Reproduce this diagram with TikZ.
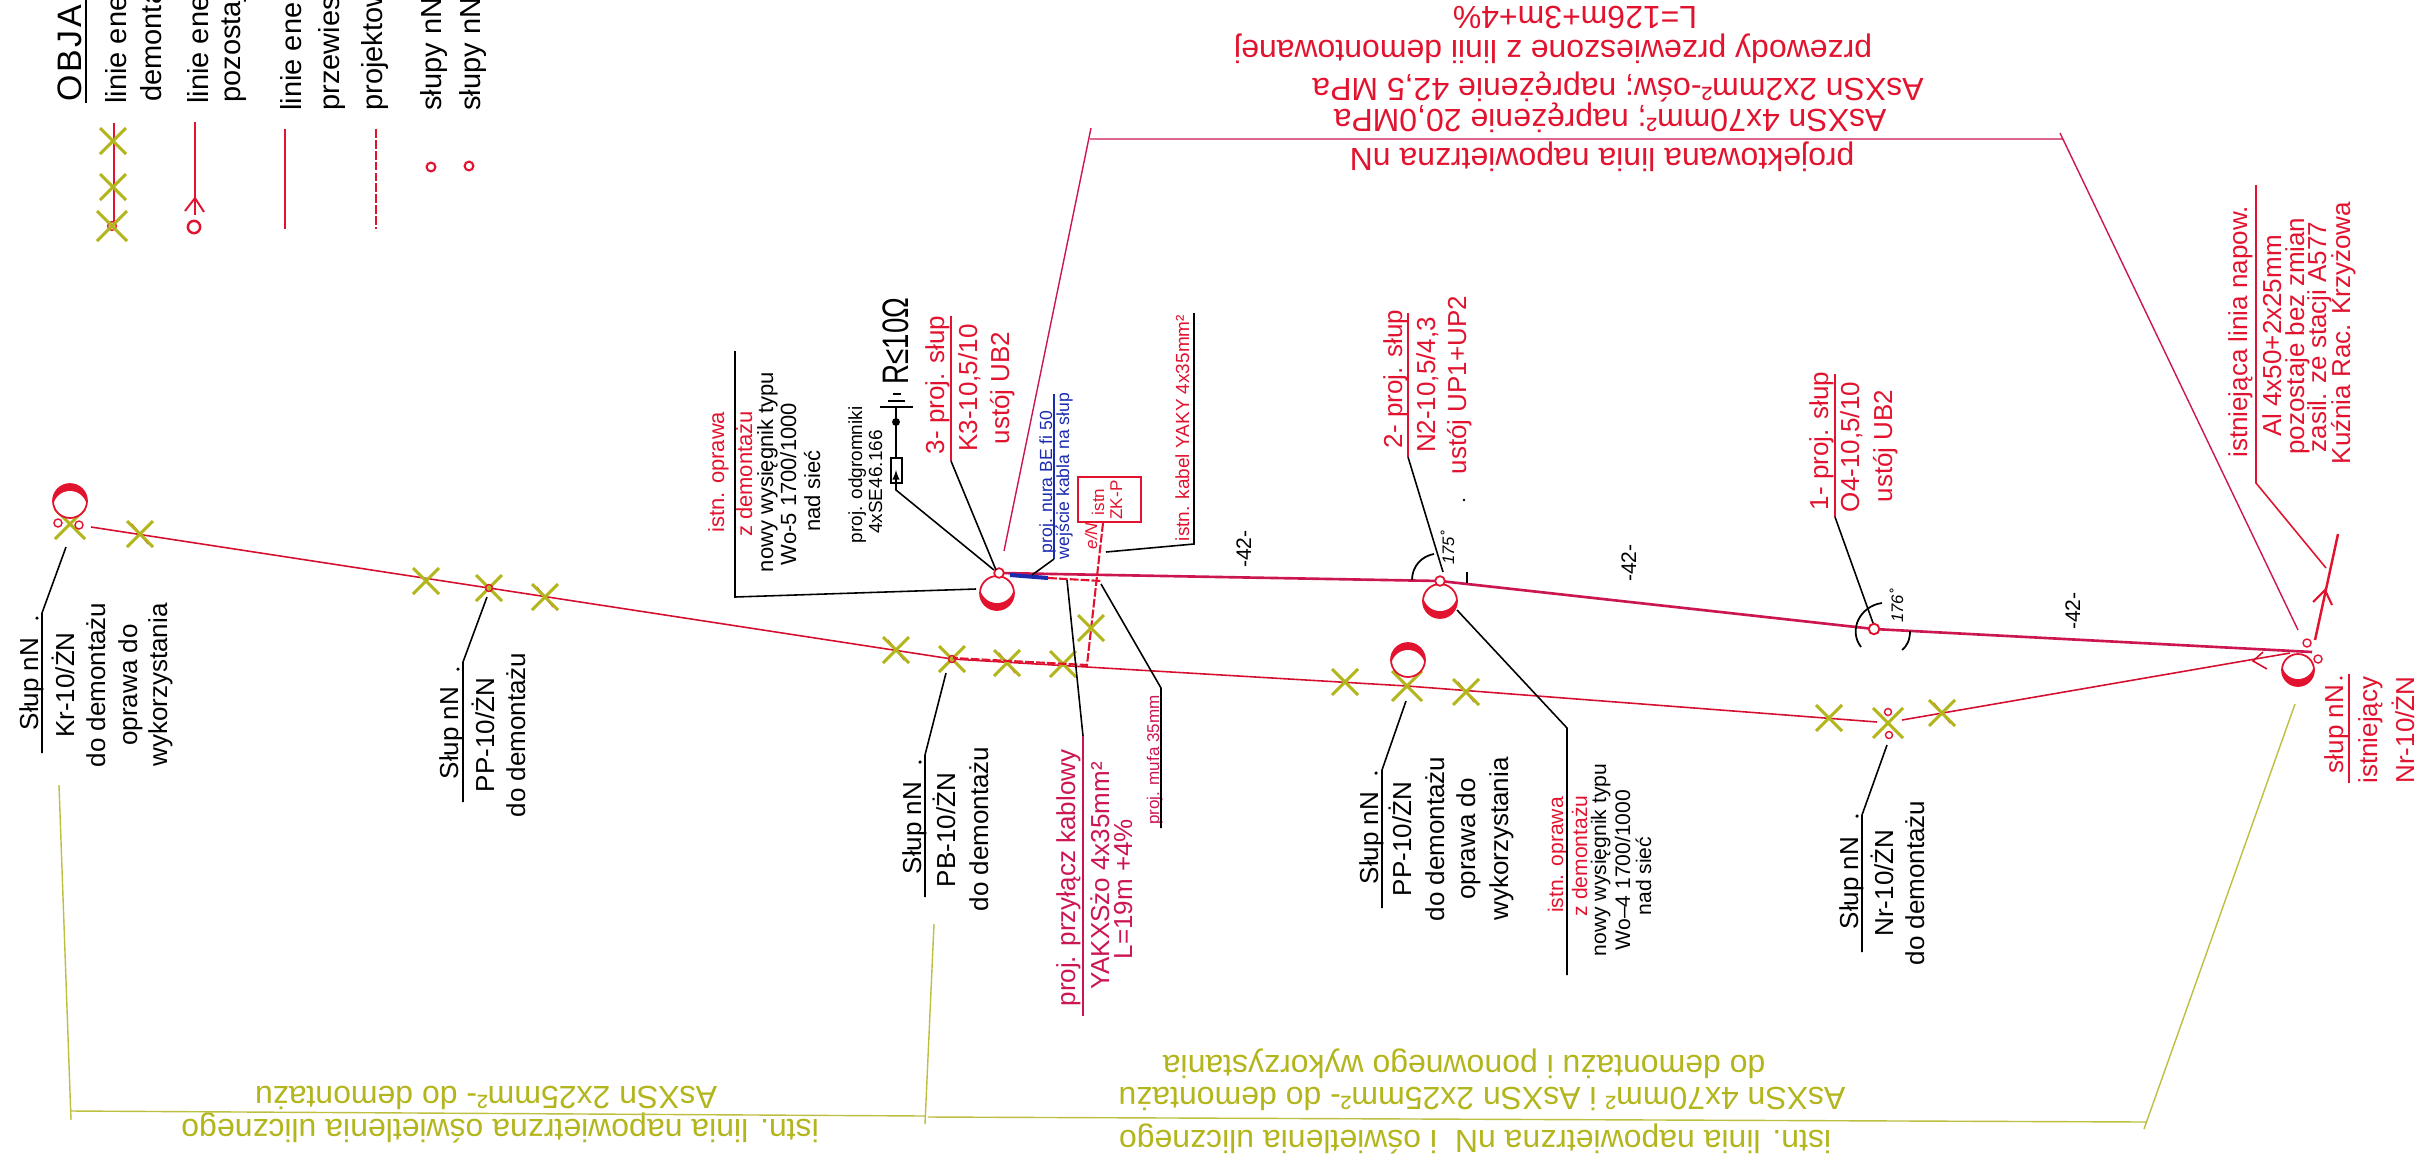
\documentclass[tikz,border=0pt]{standalone}
\usepackage{fontspec}
\setmainfont{Liberation Sans}
\newfontfamily\rfont[FakeStretch=0.75]{Liberation Sans}
\definecolor{cred}{HTML}{E2132F}
\definecolor{crim}{HTML}{CC1650}
\definecolor{lred}{HTML}{D5102F}
\definecolor{yel}{HTML}{B3B51C}
\definecolor{yline}{HTML}{BDBF40}
\definecolor{cblue}{HTML}{1A2BB0}
\newcommand\XM[3][13]{\draw[xmark] (#2-#1,#3-#1)--(#2+#1,#3+#1) (#2-#1,#3+#1)--(#2+#1,#3-#1);}
\newcommand\XR[2]{\draw[thinred] (#1-8,#2-10)--(#1+8,#2+10);\XM{#1}{#2}}
\newcommand\POLE[4]{\fill[cred] (#1,#2) circle (#4);\begin{scope}\clip (#1,#2) circle (#4);\fill[white] (#1,#3) circle ({#4});\end{scope}\draw[draw=cred,line width=1pt] (#1,#2) circle (#4);}
\tikzset{
 x=0.02cm,y=-0.02cm,
 f32/.style={font=\fontsize{18.2}{20}\selectfont},
 f34/.style={font=\fontsize{19.3}{22}\selectfont},
 f29/.style={font=\fontsize{16.5}{20}\selectfont},
 f26/.style={font=\fontsize{14.8}{18}\selectfont},
 f22/.style={font=\fontsize{12.5}{15}\selectfont},
 f21/.style={font=\fontsize{12}{14}\selectfont},
 f19/.style={font=\fontsize{10.8}{13}\selectfont},
 f18/.style={font=\fontsize{10}{12}\selectfont},
 f17/.style={font=\fontsize{9.7}{12}\selectfont},
 vt/.style={rotate=90,inner sep=0pt,anchor=base},
 vl/.style={rotate=90,inner sep=0pt,anchor=base west,f29},
 ut/.style={rotate=180,inner sep=0pt,anchor=base,f32},
 xmark/.style={draw=yel,line width=1.7pt},
 thinred/.style={draw=cred,line width=.7pt},
 oldline/.style={draw=lred,line width=.9pt},
 newline/.style={draw=crim,line width=1.5pt},
 dashl/.style={draw=cred,line width=1.2pt,dash pattern=on 5pt off 1.2pt},
 lead/.style={draw=black,line width=.9pt},
 redl/.style={draw=cred,line width=.9pt},
 crl/.style={draw=crim,line width=.8pt},
 yl/.style={draw=yline,line width=.8pt},
 mini/.style={draw=cred,line width=.8pt,fill=white,circle,inner sep=0pt,minimum size=8pt*.569},
 dotk/.style={fill=black,circle,inner sep=0pt,minimum size=2pt},
}
\begin{document}
\begin{tikzpicture}
\clip (0,0) rectangle (2418,1164);
\useasboundingbox (0,0) rectangle (2418,1164);
% ---------- legend
\node[vl,f34] (lg0) at (81,102) {O\hspace{.08em}B\hspace{.08em}J\hspace{.08em}A};
\coordinate (lgu0) at (86,103); \coordinate (lgu1) at (86,0);
\draw[lead] (lgu0)--(lgu1);
\node[vl] (lg1) at (126,104) {linie ene};
\node[vl] (lg2) at (161,102) {demonta};
\node[vl] (lg3) at (208,104) {linie ene};
\node[vl] (lg4) at (240,103) {pozostaj};
\node[vl] (lg5) at (301,111) {linie ene};
\node[vl] (lg6) at (339,111) {przewies};
\node[vl] (lg7) at (382,111) {projektow};
\node[vl] (lg8) at (441,111) {słupy nN};
\node[vl] (lg9) at (480,111) {słupy nN};
\draw[redl] (114,123)--(114,226);
\XM{113}{141}\XM{113}{187}
\node[mini,minimum size=5pt] (ls0) at (112,226) {};
\XM[15]{112}{226}
\draw[redl,line width=1.1pt] (195,122)--(195,215);
\draw[redl,line width=1.1pt] (185,211)--(195,198)--(204,212);
\node[mini,line width=1.4pt,minimum size=7pt] (ls1) at (194,227) {};
\draw[redl] (285,129)--(285,229);
\draw[dashl,line width=.9pt] (376,129)--(376,229);
\node[mini,line width=1.2pt,minimum size=5pt] (ls2) at (431,167) {};
\node[mini,line width=1.2pt,minimum size=5pt] (ls3) at (469,166) {};
% ---------- old line
\coordinate (o0) at (91,527); \coordinate (o1) at (489,588); \coordinate (o2) at (952,659);
\coordinate (o3) at (1087,667); \coordinate (o4) at (1407,686); \coordinate (o5) at (1877,722);
\coordinate (o6) at (1902,720); \coordinate (o7) at (2290,653);
\draw[oldline] (o0)--(o1)--(o2)--(o3)--(o4)--(o5);
\draw[oldline] (o6)--(o7);
\draw[oldline] (2263,652)--(2253,661)--(2267,669);
% marks on the old line
\XR{140}{534}\XM{426}{581}\XM{489}{588}\XR{545}{597}
\XR{896}{650}\XM{952}{659}\XR{1007}{663}\XM{1063}{664}
\XM{1345}{682}\XM[15]{1407}{686}\XR{1466}{692}
\XM{1829}{718}\XM[15]{1888}{723}\XR{1942}{713}
\XM[15]{70}{524}
\node[mini] (m1) at (58,523) {}; \node[mini] (m2) at (79,525) {};
\node[mini,fill=none,minimum size=4pt] (m3) at (489,588) {};
\node[mini,fill=none,minimum size=4pt] (m4) at (952,659) {};
\node[mini,minimum size=4pt] (m5) at (1888,712) {}; \node[mini,minimum size=4pt] (m6) at (1889,735) {};
% ---------- projected line
\coordinate (n3) at (999,573); \coordinate (n2) at (1440,581); \coordinate (n1) at (1874,629); \coordinate (n0) at (2312,652);
\draw[newline] (n3)--(n2)--(n1)--(n0);
\coordinate (b0) at (1010,575); \coordinate (b1) at (1048,578); \coordinate (d1) at (1102,581);
\draw[draw=cblue,line width=2.3pt] (b0)--(b1);
\draw[dashl] (b1)--(d1);
\coordinate (z0) at (1103,523); \coordinate (z1) at (1087,665); \coordinate (z2) at (953,658);
\draw[dashl] (z0)--(z1)--(z2);
\XM{1091}{628}
% ---------- existing line, right end
\coordinate (e0) at (2315,640); \coordinate (e1) at (2338,534);
\draw[draw=cred,line width=1.4pt] (e0)--(e1);
\draw[draw=cred,line width=1.2pt] (2313,602)--(2325,590)--(2332,605);
% ---------- poles
\POLE{70}{501}{508}{17}
\POLE{997}{593}{586}{17}
\POLE{1408}{660}{667}{17}
\POLE{1440}{601}{594}{17}
\POLE{2298}{670}{663}{16}
\node[mini,line width=1pt,minimum size=5.5pt] (c3) at (n3) {};
\node[mini,line width=1pt,minimum size=5.5pt] (c2) at (n2) {};
\node[mini,line width=1.1pt,minimum size=6pt] (c1) at (n1) {};
\node[mini] (m7) at (2307,643) {}; \node[mini] (m8) at (2318,659) {};
% ---------- angles
\draw[lead,line width=1pt] (1882,603) .. controls (1860,606) and (1848,630) .. (1861,647);
\draw[lead,line width=1pt] (1910,631) .. controls (1910,640) and (1907,646) .. (1902,650);
\draw[lead,line width=1pt] (1434,554) .. controls (1422,556) and (1412,566) .. (1412,580);
\draw[lead,line width=1pt] (1467,572)--(1467,583);
\node[vt,f17,font=\fontsize{9.5}{11}\itshape] (an1) at (1903,606) {176˚};
\node[vt,f17,font=\fontsize{9.5}{11}\itshape] (an2) at (1454,548) {175˚};
\node[vt,f21] (s1) at (1251,549) {-42-};
\node[vt,f21] (s2) at (1636,563) {-42-};
\node[vt,f21] (s3) at (2080,611) {-42-};
% ---------- top red block
\node[ut,text=cred] (t1) at (1602,148) {projektowana linia napowietrzna nN};
\node[ut,text=cred] (t2) at (1610,109) {AsXSn 4x70mm²; naprężenie 20,0MPa};
\node[ut,text=cred] (t3) at (1618,78) {AsXSn 2x2mm²-ośw; naprężenie 42,5 MPa};
\node[ut,text=cred] (t4) at (1553,40) {przewody przewieszone z linii demontowanej};
\node[ut,text=cred] (t5) at (1575,6) {L=126m+3m+4\%};
\coordinate (tl) at (1004,551); \coordinate (tl1) at (1090,139); \coordinate (tl0) at (1091,128);
\coordinate (tr) at (2298,630); \coordinate (tr1) at (2062,139); \coordinate (tr0) at (2060,133);
\draw[crl] (tl)--(tl0) (tl1)--(tr1) (tr0)--(tr);
% ---------- bottom yellow
\node[ut,text=yel] (y1) at (500,1119) {istn. linia napowietrzna oświetlenia ulicznego};
\node[ut,text=yel] (y2) at (486,1086) {AsXSn 2x25mm²- do demontażu};
\node[ut,text=yel] (y3) at (1475,1130) {istn. linia napowietrzna nN\ \ i oświetlenia ulicznego};
\node[ut,text=yel] (y4) at (1482,1087) {AsXSn 4x70mm² i AsXSn 2x25mm²- do demontażu};
\node[ut,text=yel] (y5) at (1464,1055) {do demontażu i ponownego wykorzystania};
\coordinate (a0) at (59,785); \coordinate (a1) at (71,1120); \coordinate (a2) at (71,1111); \coordinate (a3) at (925,1116);
\coordinate (a4) at (934,924); \coordinate (a5) at (925,1124); \coordinate (a6) at (928,1117); \coordinate (a7) at (2146,1122);
\coordinate (a8) at (2295,704); \coordinate (a9) at (2144,1129);
\draw[yl] (a0)--(a1) (a2)--(a3) (a4)--(a5) (a6)--(a7) (a8)--(a9);
% ---------- Kr label
\node[vt,f26] (k1) at (38,684) {Słup nN};
\node[vt,f26] (k2) at (74,685) {Kr-10/ŻN};
\node[vt,f26] (k3) at (105,685) {do demontażu};
\node[vt,f26] (k4) at (137,685) {oprawa do};
\node[vt,f26] (k5) at (167,685) {wykorzystania};
\coordinate (ku0) at (42,753); \coordinate (ku1) at (42,613); \coordinate (ku2) at (66,547);
\draw[lead] (ku0)--(ku1)--(ku2);
\node[dotk] (kd) at (37,618) {};
% ---------- PP left
\node[vt,f26] (pp1) at (458,733) {Słup nN};
\node[vt,f26] (pp2) at (494,735) {PP-10/ŻN};
\node[vt,f26] (pp3) at (525,735) {do demontażu};
\coordinate (ppu0) at (463,802); \coordinate (ppu1) at (463,662); \coordinate (ppu2) at (487,597);
\draw[lead] (ppu0)--(ppu1)--(ppu2);
\node[dotk] (ppd) at (458,669) {};
% ---------- PB
\node[vt,f26] (pb1) at (921,828) {Słup nN};
\node[vt,f26] (pb2) at (955,830) {PB-10/ŻN};
\node[vt,f26] (pb3) at (988,829) {do demontażu};
\coordinate (pbu0) at (925,897); \coordinate (pbu1) at (925,755); \coordinate (pbu2) at (946,673);
\draw[lead] (pbu0)--(pbu1)--(pbu2);
\node[dotk] (pbd) at (920,762) {};
% ---------- PP mid
\node[vt,f26] (pm1) at (1378,838) {Słup nN};
\node[vt,f26] (pm2) at (1411,839) {PP-10/ŻN};
\node[vt,f26] (pm3) at (1444,839) {do demontażu};
\node[vt,f26] (pm4) at (1475,839) {oprawa do};
\node[vt,f26] (pm5) at (1508,839) {wykorzystania};
\coordinate (pmu0) at (1382,908); \coordinate (pmu1) at (1382,770); \coordinate (pmu2) at (1406,701);
\draw[lead] (pmu0)--(pmu1)--(pmu2);
\node[dotk] (pmd) at (1376,773) {};
% ---------- Nr
\node[vt,f26] (nr1) at (1858,883) {Słup nN};
\node[vt,f26] (nr2) at (1893,883) {Nr-10/ŻN};
\node[vt,f26] (nr3) at (1924,883) {do demontażu};
\coordinate (nru0) at (1862,952); \coordinate (nru1) at (1862,815); \coordinate (nru2) at (1887,745);
\draw[lead] (nru0)--(nru1)--(nru2);
\node[dotk] (nrd) at (1857,816) {};
% ---------- existing pole label
\node[vt,f26,text=cred] (ex1) at (2343,729) {słup nN};
\node[vt,f26,text=cred] (ex2) at (2377,730) {istniejący};
\node[vt,f26,text=cred] (ex3) at (2414,730) {Nr-10/ŻN};
\coordinate (exu0) at (2349,783); \coordinate (exu1) at (2349,674);
\draw[redl] (exu0)--(exu1);
\node[dotk,fill=cred] (exd) at (2341,678) {};
% ---------- existing line label
\node[vt,f26,text=cred] (il1) at (2247,332) {istniejąca linia napow.};
\node[vt,f26,text=cred] (il2) at (2281,336) {Al 4x50+2x25mm};
\node[vt,f26,text=cred] (il3) at (2304,336) {pozostaje bez zmian};
\node[vt,f26,text=cred] (il4) at (2326,337) {zasil. ze stacji A577};
\node[vt,f26,text=cred] (il5) at (2350,333) {Kuźnia Rac. Krzyżowa};
\coordinate (ilu0) at (2256,185); \coordinate (ilu1) at (2256,483); \coordinate (ilu2) at (2326,568);
\draw[redl] (ilu0)--(ilu1)--(ilu2);
% ---------- przyłącz
\node[vt,f26,text=crim] (pk1) at (1075,878) {proj. przyłącz kablowy};
\node[vt,f26,text=crim] (pk2) at (1109,876) {YAKXSżo 4x35mm²};
\node[vt,f26,text=crim] (pk3) at (1132,889) {L=19m +4\%};
\coordinate (pku0) at (1083,1016); \coordinate (pku1) at (1083,736); \coordinate (pku2) at (1067,580);
\draw[crl] (pku0)--(pku1);
\draw[lead] (pku1)--(pku2);
\node[vt,font=\fontsize{9.7}{12}\selectfont,text=crim] (mf) at (1159,760) {proj. mufa 35mm};
\coordinate (mfu0) at (1161,828); \coordinate (mfu1) at (1161,688); \coordinate (mfu2) at (1101,584);
\draw[lead] (mfu0)--(mfu1)--(mfu2);
% ---------- K3 left group
\node[vt,f22,text=cred] (g1) at (724,472) {istn. oprawa};
\node[vt,f22,text=cred] (g2) at (752,474) {z demontażu};
\node[vt,f22] (g3) at (773,472) {nowy wysięgnik typu};
\node[vt,f22] (g4) at (796,484) {Wo-5 1700/1000};
\node[vt,f22] (g5) at (820,491) {nad sieć};
\coordinate (gu0) at (735,351); \coordinate (gu1) at (735,597); \coordinate (gu2) at (976,589);
\draw[lead] (gu0)--(gu1)--(gu2);
% ---------- N2 right group
\node[vt,f21,text=cred] (h1) at (1563,855) {istn. oprawa};
\node[vt,f21,text=cred] (h2) at (1587,856) {z demontażu};
\node[vt,f21] (h3) at (1606,860) {nowy wysięgnik typu};
\node[vt,f21] (h4) at (1630,870) {Wo–4 1700/1000};
\node[vt,f21] (h5) at (1651,876) {nad sieć};
\coordinate (hu0) at (1567,975); \coordinate (hu1) at (1567,728); \coordinate (hu2) at (1457,610);
\draw[lead] (hu0)--(hu1)--(hu2);
% ---------- earth
\node[vt,f19] (o1t) at (862,475) {proj. odgromniki};
\node[vt,f19] (o2t) at (882,482) {4xSE46.166};
\node[vt,font=\fontsize{21}{24}\rfont] (rr) at (908,341) {R≤10Ω};
\coordinate (er0) at (896,407); \coordinate (er1) at (896,458); \coordinate (er2) at (896,483); \coordinate (er3) at (896,490); \coordinate (er4) at (994,570);
\draw[lead] (er0)--(er1);
\draw[lead] (er2)--(er3)--(er4);
\draw[lead] (880,407)--(913,407) (888,401)--(905,401) (893,394)--(901,394);
\node[dotk,minimum size=4.5pt] (ed) at (896,422) {};
\node[draw=black,line width=.8pt,inner sep=0pt,minimum width=6.3pt,minimum height=14.2pt] (fs) at (896.5,470.5) {};
\draw[-latex,lead] (896,483)--(896,470);
% ---------- labels K3
\node[vt,f26,text=cred] (k31) at (944,385) {3- proj. słup};
\node[vt,f26,text=cred] (k32) at (977,388) {K3-10,5/10};
\node[vt,f26,text=cred] (k33) at (1009,388) {ustój UB2};
\draw[redl] (951,316)--(951,461);
\coordinate (k3a) at (951,461); \coordinate (k3b) at (996,570);
\draw[lead] (k3a)--(k3b);
% blue
\node[vt,f18,text=cblue] (bl1) at (1052,482) {proj. nura BE fi 50};
\node[vt,f18,text=cblue] (bl2) at (1069,476) {wejście kabla na słup};
\coordinate (bu0) at (1054,394); \coordinate (bu1) at (1054,559); \coordinate (bu2) at (1032,575);
\draw[draw=cblue,line width=.8pt] (bu0)--(bu1);
\draw[lead] (bu1)--(bu2);
% ZK-P
\node[draw=cred,line width=1.1pt,minimum width=63*.569pt,minimum height=45*.569pt,inner sep=0pt] (zk) at (1109.5,499.5) {};
\node[vt,f17,text=cred] (zk1) at (1104,502) {istn};
\node[vt,f17,text=cred] (zk2) at (1122,500) {ZK-P};
\node[vt,f17,text=cred,font=\fontsize{9.7}{12}\itshape] (eN) at (1097,536) {e/N};
% kabel
\node[vt,f19,text=cred] (kb) at (1189,428) {istn. kabel YAKY 4x35mm²};
\coordinate (kb0) at (1194,313); \coordinate (kb1) at (1194,544); \coordinate (kb2) at (1106,552);
\draw[lead] (kb0)--(kb1)--(kb2);
% N2 labels
\node[vt,f26,text=cred] (n21) at (1402,379) {2- proj. słup};
\node[vt,f26,text=cred] (n22) at (1435,385) {N2-10,5/4,3};
\node[vt,f26,text=cred] (n23) at (1466,385) {ustój UP1+UP2};
\draw[redl] (1408,313)--(1408,457);
\coordinate (n2a) at (1408,457); \coordinate (n2b) at (1443,572);
\draw[lead] (n2a)--(n2b);
\node[dotk,minimum size=1.5pt] (n2d) at (1464,500) {};
% O4 labels
\node[vt,f26,text=cred] (o41) at (1828,441) {1- proj. słup};
\node[vt,f26,text=cred] (o42) at (1859,447) {O4-10,5/10};
\node[vt,f26,text=cred] (o43) at (1892,446) {ustój UB2};
\draw[redl] (1835,374)--(1835,517);
\coordinate (o4a) at (1835,517); \coordinate (o4b) at (1873,623);
\draw[lead] (o4a)--(o4b);
\end{tikzpicture}
\end{document}
